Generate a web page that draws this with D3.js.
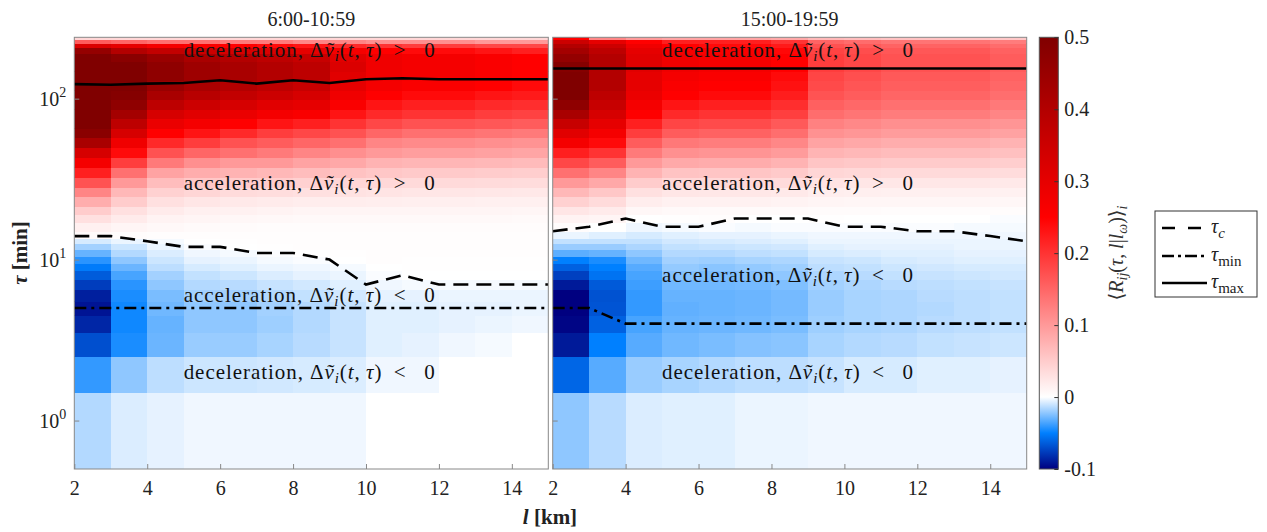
<!DOCTYPE html>
<html><head><meta charset="utf-8">
<script src="https://cdn.jsdelivr.net/npm/d3@7"></script>
<style>
body{margin:0;background:#fff}
svg{display:block}
text{font-family:"Liberation Serif","Times New Roman","DejaVu Serif",serif;fill:#222}
</style>
</head><body>
<svg id="c" width="1267" height="532"></svg>
<script>
// ---------------- data ----------------
const lCols = [2,3,4,5,6,7,8,9,10,11,12,13,14];           // left edge of each l column [km]
const tauRows = [1,2,3,4,5,6,7,8,9,10,11,12,13,14,16,18,20,23,26,30,35,40,46,53,61,70,80,92,105,120,138,158,180,200,215,228,240]; // [min]

// <R_ij> for 6:00-10:59 (rows = tauRows, cols = lCols)
const valuesMorning = [
 [-0.015,-0.007,-0.005,-0.003,-0.003,-0.003,-0.003,-0.003,0,0,0,0,0],
 [-0.04,-0.022,-0.013,-0.01,-0.01,-0.009,-0.008,-0.007,-0.003,-0.003,0,0,0],
 [-0.069,-0.045,-0.029,-0.02,-0.02,-0.017,-0.014,-0.011,-0.006,-0.005,-0.003,-0.002,0],
 [-0.085,-0.047,-0.03,-0.022,-0.022,-0.019,-0.015,-0.011,-0.006,-0.006,-0.005,-0.004,-0.003],
 [-0.092,-0.047,-0.028,-0.022,-0.022,-0.018,-0.015,-0.011,-0.006,-0.006,-0.005,-0.005,-0.004],
 [-0.088,-0.045,-0.026,-0.018,-0.018,-0.015,-0.012,-0.009,-0.005,-0.005,-0.004,-0.004,-0.004],
 [-0.076,-0.042,-0.022,-0.015,-0.014,-0.011,-0.009,-0.006,-0.003,-0.002,-0.002,-0.002,-0.002],
 [-0.064,-0.036,-0.018,-0.012,-0.01,-0.007,-0.005,-0.004,-0.001,0,0,0,0],
 [-0.052,-0.029,-0.013,-0.008,-0.006,-0.004,-0.003,-0.002,0,0.001,0.001,0.001,0.001],
 [-0.042,-0.022,-0.01,-0.005,-0.004,-0.002,-0.001,0,0.002,0.001,0.001,0.001,0.001],
 [-0.03,-0.015,-0.007,-0.003,-0.002,-0.001,0,0.001,0.002,0.002,0.002,0.002,0.002],
 [-0.018,-0.01,-0.004,-0.001,0,0.001,0.002,0.002,0.002,0.002,0.002,0.002,0.002],
 [-0.008,-0.004,-0.002,0,0.001,0.002,0.002,0.002,0.002,0.002,0.002,0.002,0.002],
 [0.005,0.003,0.002,0.002,0.002,0.002,0.002,0.002,0.002,0.002,0.002,0.002,0.002],
 [0.015,0.01,0.007,0.005,0.004,0.003,0.003,0.003,0.003,0.003,0.003,0.003,0.003],
 [0.03,0.02,0.012,0.01,0.008,0.007,0.006,0.006,0.006,0.006,0.006,0.006,0.005],
 [0.05,0.03,0.02,0.015,0.014,0.012,0.01,0.01,0.01,0.01,0.01,0.01,0.009],
 [0.08,0.05,0.03,0.025,0.022,0.02,0.018,0.018,0.017,0.016,0.016,0.015,0.015],
 [0.12,0.07,0.045,0.04,0.035,0.033,0.03,0.028,0.026,0.025,0.025,0.024,0.023],
 [0.17,0.1,0.065,0.055,0.05,0.05,0.045,0.04,0.038,0.036,0.036,0.035,0.034],
 [0.22,0.14,0.09,0.08,0.075,0.07,0.065,0.06,0.055,0.052,0.052,0.05,0.048],
 [0.27,0.19,0.13,0.11,0.1,0.1,0.09,0.085,0.075,0.072,0.072,0.07,0.067],
 [0.33,0.24,0.17,0.15,0.14,0.13,0.12,0.11,0.1,0.095,0.095,0.092,0.088],
 [0.42,0.28,0.21,0.19,0.17,0.16,0.15,0.14,0.12,0.115,0.115,0.11,0.106],
 [0.48,0.33,0.25,0.23,0.21,0.19,0.18,0.17,0.15,0.14,0.14,0.135,0.13],
 [0.5,0.38,0.29,0.27,0.25,0.23,0.22,0.2,0.18,0.17,0.17,0.165,0.16],
 [0.5,0.43,0.33,0.31,0.29,0.27,0.26,0.23,0.21,0.2,0.2,0.19,0.185],
 [0.5,0.47,0.38,0.35,0.33,0.31,0.3,0.26,0.23,0.22,0.22,0.21,0.205],
 [0.5,0.49,0.42,0.39,0.37,0.35,0.33,0.28,0.25,0.24,0.24,0.23,0.225],
 [0.5,0.5,0.45,0.42,0.4,0.38,0.36,0.3,0.27,0.26,0.26,0.25,0.24],
 [0.5,0.5,0.47,0.44,0.42,0.4,0.38,0.31,0.28,0.27,0.27,0.26,0.25],
 [0.5,0.5,0.47,0.44,0.42,0.4,0.38,0.32,0.28,0.27,0.27,0.26,0.25],
 [0.5,0.48,0.45,0.42,0.4,0.38,0.36,0.31,0.28,0.27,0.27,0.26,0.25],
 [0.46,0.4,0.37,0.35,0.33,0.32,0.3,0.27,0.25,0.24,0.24,0.23,0.22],
 [0.32,0.3,0.27,0.26,0.25,0.24,0.23,0.21,0.2,0.19,0.19,0.18,0.18],
 [0.16,0.15,0.14,0.14,0.13,0.13,0.12,0.12,0.11,0.11,0.11,0.1,0.1],
 [0.04,0.04,0.04,0.04,0.04,0.04,0.04,0.04,0.04,0.04,0.04,0.04,0.04]
];

// <R_ij> for 15:00-19:59
const valuesEvening = [
 [-0.022,-0.014,-0.007,-0.006,-0.006,-0.004,-0.004,-0.003,-0.003,-0.003,-0.003,-0.003,-0.003],
 [-0.06,-0.033,-0.02,-0.017,-0.015,-0.013,-0.013,-0.011,-0.008,-0.008,-0.006,-0.006,-0.005],
 [-0.09,-0.05,-0.033,-0.028,-0.026,-0.024,-0.023,-0.017,-0.015,-0.014,-0.012,-0.011,-0.01],
 [-0.098,-0.062,-0.036,-0.03,-0.029,-0.028,-0.026,-0.019,-0.017,-0.016,-0.014,-0.013,-0.012],
 [-0.1,-0.067,-0.04,-0.031,-0.03,-0.029,-0.027,-0.02,-0.017,-0.016,-0.015,-0.013,-0.012],
 [-0.1,-0.068,-0.04,-0.03,-0.03,-0.029,-0.027,-0.02,-0.017,-0.016,-0.014,-0.013,-0.012],
 [-0.09,-0.065,-0.038,-0.028,-0.028,-0.027,-0.025,-0.018,-0.016,-0.014,-0.013,-0.012,-0.011],
 [-0.075,-0.055,-0.036,-0.024,-0.026,-0.024,-0.022,-0.016,-0.014,-0.012,-0.011,-0.01,-0.009],
 [-0.062,-0.05,-0.033,-0.021,-0.023,-0.021,-0.019,-0.013,-0.012,-0.01,-0.009,-0.008,-0.008],
 [-0.05,-0.045,-0.028,-0.018,-0.019,-0.017,-0.016,-0.011,-0.01,-0.008,-0.007,-0.006,-0.006],
 [-0.032,-0.03,-0.022,-0.015,-0.015,-0.013,-0.012,-0.008,-0.007,-0.006,-0.006,-0.005,-0.005],
 [-0.02,-0.02,-0.016,-0.012,-0.011,-0.01,-0.009,-0.006,-0.005,-0.005,-0.005,-0.004,-0.004],
 [-0.012,-0.012,-0.012,-0.009,-0.008,-0.007,-0.006,-0.004,-0.004,-0.004,-0.004,-0.004,-0.004],
 [-0.004,-0.006,-0.008,-0.006,-0.005,-0.005,-0.004,-0.003,-0.003,-0.003,-0.003,-0.003,-0.003],
 [0.003,0,-0.003,-0.002,-0.001,-0.002,-0.001,-0.001,-0.001,-0.001,-0.001,-0.002,-0.002],
 [0.012,0.01,0,0.001,0.002,0,0,0.001,0,0,0,0,-0.001],
 [0.025,0.02,0.008,0.006,0.005,0.005,0.005,0.004,0.004,0.003,0.003,0.003,0.003],
 [0.045,0.035,0.018,0.014,0.014,0.014,0.012,0.01,0.009,0.009,0.009,0.009,0.008],
 [0.07,0.055,0.03,0.025,0.024,0.024,0.022,0.017,0.016,0.015,0.015,0.015,0.014],
 [0.1,0.085,0.05,0.039,0.038,0.038,0.035,0.027,0.025,0.024,0.024,0.024,0.022],
 [0.14,0.12,0.075,0.059,0.057,0.057,0.052,0.04,0.038,0.036,0.036,0.036,0.034],
 [0.18,0.16,0.1,0.084,0.081,0.081,0.075,0.057,0.054,0.051,0.051,0.051,0.048],
 [0.22,0.2,0.13,0.109,0.105,0.105,0.098,0.074,0.07,0.066,0.066,0.066,0.062],
 [0.27,0.24,0.16,0.132,0.127,0.127,0.118,0.09,0.085,0.08,0.08,0.08,0.075],
 [0.31,0.27,0.19,0.16,0.154,0.154,0.142,0.108,0.103,0.097,0.097,0.097,0.091],
 [0.36,0.3,0.22,0.182,0.176,0.176,0.163,0.124,0.117,0.11,0.11,0.11,0.104],
 [0.42,0.33,0.25,0.21,0.2,0.2,0.188,0.143,0.135,0.128,0.128,0.128,0.12],
 [0.47,0.36,0.27,0.23,0.22,0.22,0.205,0.156,0.148,0.14,0.14,0.14,0.131],
 [0.5,0.38,0.29,0.25,0.24,0.24,0.222,0.169,0.16,0.151,0.151,0.151,0.142],
 [0.5,0.4,0.3,0.26,0.25,0.25,0.233,0.177,0.167,0.158,0.158,0.158,0.149],
 [0.5,0.4,0.3,0.27,0.26,0.26,0.24,0.182,0.173,0.163,0.163,0.163,0.154],
 [0.49,0.4,0.31,0.28,0.27,0.27,0.25,0.19,0.18,0.17,0.17,0.17,0.16],
 [0.46,0.4,0.31,0.28,0.27,0.27,0.25,0.19,0.18,0.17,0.17,0.17,0.16],
 [0.43,0.38,0.3,0.27,0.26,0.26,0.243,0.184,0.175,0.165,0.165,0.165,0.155],
 [0.4,0.35,0.28,0.25,0.24,0.24,0.225,0.171,0.162,0.153,0.153,0.153,0.144],
 [0.35,0.3,0.25,0.22,0.22,0.22,0.2,0.152,0.144,0.136,0.136,0.136,0.128],
 [0.25,0.12,0.1,0.09,0.09,0.09,0.085,0.07,0.065,0.06,0.06,0.06,0.055]
];

// characteristic lines, vertices at l = 2..15
const lineL = [2,3,4,5,6,7,8,9,10,11,12,13,14,15];
const tauCMorning   = [14,14,13,12,12,11,11,10,7,8,7,7,7,7];
const tauMinMorning = [5,5,5,5,5,5,5,5,5,5,5,5,5,5];
const tauMaxMorning = [123,122,124,125,130,124,130,125,132,134,132,132,132,132];
const tauCEvening   = [15,16,18,16,16,18,18,18,16,16,15,15,14,13];
const tauMinEvening = [5,5,4,4,4,4,4,4,4,4,4,4,4,4];
const tauMaxEvening = [154,154,154,154,154,154,154,154,154,154,154,154,154,154];

const panelTitles = ["6:00-10:59","15:00-19:59"];
const xTicks = [2,4,6,8,10,12,14];
const yTicks = [1,10,100];
const yTickExp = ["0","1","2"];
const cbTicks = [-0.1,0,0.1,0.2,0.3,0.4,0.5];
const cbTickLabels = ["-0.1","0","0.1","0.2","0.3","0.4","0.5"];
const cmapStops = [-0.1,-0.05,0,0.25,0.5];
const cmapColors = ["#000080","#0080ff","#ffffff","#ff0000","#800000"];
const annTauMorning = [200,30,6,2];
const annTauEvening = [200,30,8,2];
const annWords = ["deceleration","acceleration","acceleration","deceleration"];
const annSigns = [">",">","<","<"];

// ---------------- drawing ----------------
const svg = d3.select("#c");
const yT = 37.3, yB = 469;
const y = d3.scaleLog().domain([0.5,240.5]).range([yB,yT]);
const color = d3.scaleLinear().domain(cmapStops).range(cmapColors).clamp(true);

const edges = [0.5];
for (let i=0;i<tauRows.length-1;i++) edges.push((tauRows[i]+tauRows[i+1])/2);
edges.push(240.5);

const panels = [
 {x0:74.3, x1:548.3, vals:valuesMorning, tc:tauCMorning, tmin:tauMinMorning, tmax:tauMaxMorning, ann:annTauMorning, yLabels:true},
 {x0:552.7, x1:1026.7, vals:valuesEvening, tc:tauCEvening, tmin:tauMinEvening, tmax:tauMaxEvening, ann:annTauEvening, yLabels:false}
];

const defs = svg.append("defs");

panels.forEach((p,pi)=>{
  const x = d3.scaleLinear().domain([2,15]).range([p.x0,p.x1]);
  const g = svg.append("g");
  defs.append("clipPath").attr("id","clip"+pi).append("rect")
    .attr("x",p.x0).attr("y",yT).attr("width",p.x1-p.x0).attr("height",yB-yT);

  const cells = [];
  p.vals.forEach((row,i)=>row.forEach((v,j)=>cells.push({i,j,v})));
  g.append("g").attr("shape-rendering","crispEdges").attr("clip-path","url(#clip"+pi+")")
    .selectAll("rect").data(cells).join("rect")
    .attr("x",d=>x(lCols[d.j]))
    .attr("width",d=>x(lCols[d.j]+1)-x(lCols[d.j])+0.5)
    .attr("y",d=>y(edges[d.i+1]))
    .attr("height",d=>y(edges[d.i])-y(edges[d.i+1])+0.5)
    .attr("fill",d=>color(d.v));

  // annotations
  p.ann.forEach((t,k)=>{
    const tx = g.append("text").attr("x",x(5)).attr("y",y(t)).attr("dy","0.33em")
      .attr("textLength",251).attr("lengthAdjust","spacing")
      .style("font-size","21px").style("fill","#111");
    tx.append("tspan").text(annWords[k]+", \u0394");
    tx.append("tspan").style("font-style","italic").text("\u1E7D");
    tx.append("tspan").style("font-style","italic").style("font-size","15px").attr("dy",4).text("i");
    tx.append("tspan").attr("dy",-4).text("(");
    tx.append("tspan").style("font-style","italic").text("t");
    tx.append("tspan").text(",\u2009");
    tx.append("tspan").style("font-style","italic").text("\u03C4");
    tx.append("tspan").text(")\u2002"+annSigns[k]+"\u2002 0");
  });

  // lines
  const lg = g.append("g").attr("clip-path","url(#clip"+pi+")");
  const line = d3.line().x(d=>x(d[0])).y(d=>y(d[1]));
  lg.append("path").datum(lineL.map((l,k)=>[l,p.tmax[k]])).attr("d",line)
    .attr("fill","none").attr("stroke","#000").attr("stroke-width",2.6);
  lg.append("path").datum(lineL.map((l,k)=>[l,p.tc[k]])).attr("d",line)
    .attr("fill","none").attr("stroke","#000").attr("stroke-width",2.6).attr("stroke-dasharray","15,8");
  lg.append("path").datum(lineL.map((l,k)=>[l,p.tmin[k]])).attr("d",line)
    .attr("fill","none").attr("stroke","#000").attr("stroke-width",2.6).attr("stroke-dasharray","12,5,3,5");

  // frame
  g.append("rect").attr("x",p.x0).attr("y",yT).attr("width",p.x1-p.x0).attr("height",yB-yT)
    .attr("fill","none").attr("stroke","#888").attr("stroke-width",1);

  // x axis
  const xa = g.append("g").attr("transform",`translate(0,${yB})`)
    .call(d3.axisBottom(x).tickValues(xTicks).tickSize(-5).tickPadding(12).tickFormat(d3.format("d")));
  xa.select(".domain").remove();
  xa.selectAll("line").attr("stroke","#888");
  xa.selectAll("text").style("font-size","20px").style("font-family","Liberation Serif, serif").attr("fill","#222");

  // y axis
  const ya = g.append("g").attr("transform",`translate(${p.x0},0)`)
    .call(d3.axisLeft(y).tickValues(yTicks).tickSize(-5).tickFormat(""));
  ya.select(".domain").remove();
  ya.selectAll("line").attr("stroke","#888");
  if (p.yLabels){
    yTicks.forEach((t,k)=>{
      const tx = g.append("text").attr("x",p.x0-8).attr("y",y(t)+7).attr("text-anchor","end")
        .style("font-size","20px");
      tx.append("tspan").text("10");
      tx.append("tspan").attr("dy",-9).style("font-size","14px").text(yTickExp[k]);
    });
  }

  // title
  svg.append("text").attr("x",(p.x0+p.x1)/2).attr("y",26).attr("text-anchor","middle")
    .style("font-size","20px").text(panelTitles[pi]);
});

// axis labels
const xl = svg.append("text").attr("x",550).attr("y",524).attr("text-anchor","middle")
  .style("font-size","21px").style("font-weight","bold");
xl.append("tspan").style("font-style","italic").text("l");
xl.append("tspan").text(" [km]");
const yl = svg.append("text").attr("transform","translate(27,253) rotate(-90)").attr("text-anchor","middle")
  .style("font-size","21px").style("font-weight","bold");
yl.append("tspan").style("font-style","italic").text("\u03C4");
yl.append("tspan").text(" [min]");

// colorbar
const cbX0 = 1039.3, cbX1 = 1058.3;
const cy = d3.scaleLinear().domain([-0.1,0.5]).range([yB,yT]);
const grad = defs.append("linearGradient").attr("id","cbg").attr("x1",0).attr("x2",0).attr("y1",1).attr("y2",0);
cmapStops.forEach((s,k)=>grad.append("stop").attr("offset",(s+0.1)/0.6).attr("stop-color",cmapColors[k]));
svg.append("rect").attr("x",cbX0).attr("y",yT).attr("width",cbX1-cbX0).attr("height",yB-yT)
  .attr("fill","url(#cbg)").attr("stroke","#555").attr("stroke-width",1);
const cba = svg.append("g").attr("transform",`translate(${cbX1},0)`)
  .call(d3.axisRight(cy).tickValues(cbTicks).tickSize(-4).tickPadding(6).tickFormat((d,k)=>cbTickLabels[k]));
cba.select(".domain").remove();
cba.selectAll("line").attr("stroke","#333");
cba.selectAll("text").style("font-size","20px").style("font-family","Liberation Serif, serif").attr("fill","#222");

const cl = svg.append("text").attr("transform","translate(1123,253) rotate(-90)").attr("text-anchor","middle")
  .style("font-size","20px").style("fill","#333");
cl.append("tspan").text("\u27E8");
cl.append("tspan").style("font-style","italic").text("R");
cl.append("tspan").style("font-style","italic").style("font-size","14px").attr("dy",4).text("ij");
cl.append("tspan").attr("dy",-4).text("(");
cl.append("tspan").style("font-style","italic").text("\u03C4");
cl.append("tspan").text(", ");
cl.append("tspan").style("font-style","italic").text("l");
cl.append("tspan").text("|");
cl.append("tspan").style("font-style","italic").text("l");
cl.append("tspan").style("font-style","italic").style("font-size","14px").attr("dy",4).text("\u03C9");
cl.append("tspan").attr("dy",-4).text(")\u27E9");
cl.append("tspan").style("font-style","italic").style("font-size","14px").attr("dy",4).text("i");

// legend
const lgX = 1155, lgY = 211;
svg.append("rect").attr("x",lgX).attr("y",lgY).attr("width",102).attr("height",86)
  .attr("fill","#fff").attr("stroke","#333").attr("stroke-width",1);
const legDash = ["13,13","12,4,3,4",null];
const legSub = ["c","min","max"];
const legY = [228,256,283];
legSub.forEach((s,k)=>{
  const ln = svg.append("line").attr("x1",lgX+7).attr("x2",lgX+52).attr("y1",legY[k]).attr("y2",legY[k])
    .attr("stroke","#000").attr("stroke-width",2.6);
  if (legDash[k]) ln.attr("stroke-dasharray",legDash[k]);
  const t = svg.append("text").attr("x",lgX+56).attr("y",legY[k]+5).style("font-size","20px");
  t.append("tspan").style("font-style","italic").text("\u03C4");
  t.append("tspan").style("font-size","15px").style("font-style",k===0?"italic":"normal").attr("dy",5).text(s);
});
</script>
</body></html>
